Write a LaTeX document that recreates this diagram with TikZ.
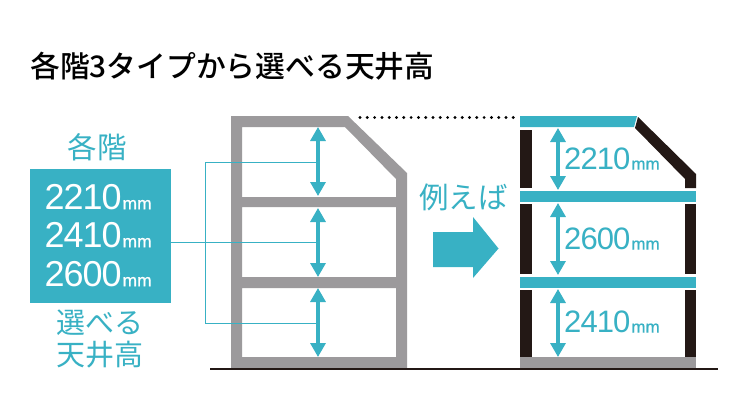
\documentclass[tikz,border=0pt]{standalone}
\usepackage{fontspec}
\setmainfont{Liberation Sans}
\newfontfamily\cjk{Noto Sans CJK JP}
\newfontfamily\cjkmed{Noto Sans CJK JP Medium}
\newfontfamily\numf{Liberation Sans}[LetterSpace=-3]
\newfontfamily\unitf{Liberation Sans}[FakeBold=0.6]
\definecolor{teal1}{HTML}{38B1C4}
\definecolor{wallgrey}{HTML}{9C9A9C}
\definecolor{wallblack}{HTML}{231815}
\usetikzlibrary{arrows.meta}
\tikzset{
  tealfill/.style={fill=teal1,draw=none},
  greyfill/.style={fill=wallgrey,draw=none},
  blackfill/.style={fill=wallblack,draw=none},
  leader/.style={draw=teal1,line width=0.9pt},
  dim/.style={draw=teal1,line width=3.2pt,{Triangle[length=14pt,width=15pt]}-{Triangle[length=14pt,width=15pt]}},
  lbl/.style={text=teal1,inner sep=0pt,anchor=center},
}
\newcommand{\dimtext}[3]{{\fontsize{#1}{#1}\selectfont\numf #2}\kern1pt{\fontsize{#3}{#3}\selectfont\unitf mm}}
\begin{document}
\begin{tikzpicture}[x=1pt,y=-1pt]
\useasboundingbox (0,0) rectangle (750,420);
\fill[white] (0,0) rectangle (750,420);
% title
\node[anchor=west,inner sep=0pt,text=black] (title) at (30,66) {\fontsize{29.8}{29.8}\selectfont\cjkmed 各階3タイプから選べる天井高};
% left box
\node[fill=teal1,minimum width=141pt,minimum height=134pt,inner sep=0pt,anchor=north west] (box) at (30,168.5) {};
\node[lbl,font=\fontsize{29.5}{29.5}\selectfont\cjk] (kakkai) at (97,147) {各階};
\node[lbl,font=\fontsize{29}{31}\selectfont\cjk,align=center] (erabu) at (99.5,339) {選べる\\[1pt]天井高};
\node[inner sep=0pt,anchor=west,text=white] (v1) at (44.5,197) {\dimtext{36}{2210}{17.5}};
\node[inner sep=0pt,anchor=west,text=white] (v2) at (44.5,235) {\dimtext{36}{2410}{17.5}};
\node[inner sep=0pt,anchor=west,text=white] (v3) at (44.5,274) {\dimtext{36}{2600}{17.5}};
% left building
\fill[greyfill,even odd rule] (231,116) -- (348,116) -- (407,173) -- (407,368) -- (231,368) -- cycle
  (242,127) -- (345,127) -- (396,179) -- (396,197) -- (242,197) -- cycle
  (242,207) -- (396,207) -- (396,277) -- (242,277) -- cycle
  (242,288) -- (396,288) -- (396,357) -- (242,357) -- cycle;
% ground
\coordinate (g1) at (210,369); \coordinate (g2) at (718,369);
\draw[wallblack,line width=1.1pt] (g1) -- (g2);
% arrows left
\coordinate (a1t) at (318,127); \coordinate (a1b) at (318,196);
\coordinate (a2t) at (318,208); \coordinate (a2b) at (318,277);
\coordinate (a3t) at (318,288); \coordinate (a3b) at (318,357);
\coordinate (j) at (205,242);
\coordinate (l1) at (318,162); \coordinate (l2) at (318,242); \coordinate (l3) at (318,323);
\draw[leader] (box.east |- j) -- (l2);
\draw[leader] (l1) -- (205,162) -- (205,323) -- (l3);
\draw[dim] (a1t) -- (a1b);
\draw[dim] (a2t) -- (a2b);
\draw[dim] (a3t) -- (a3b);
% dots
\coordinate (d1) at (360,117.5); \coordinate (d2) at (514,117.5);
\draw[black,line width=3.2pt,line cap=round,dash pattern=on 0pt off 7.3pt] (d1) -- (d2);
% example label + big arrow
\node[lbl,font=\fontsize{29.5}{29.5}\selectfont\cjk] (rei) at (463.5,197) {例えば};
\fill[tealfill] (433,232) -- (473,232) -- (473,217) -- (498.5,248.5) -- (473,278) -- (473,267) -- (433,267) -- cycle;
% right building
\fill[tealfill] (520,116) -- (637,116) -- (634,127) -- (520,127) -- cycle;
\fill[tealfill] (520,191) rectangle (696,202);
\fill[tealfill] (520,277) rectangle (696,288);
\fill[greyfill] (520,357) rectangle (696,368);
\fill[blackfill] (520,129.5) rectangle (532,188);
\fill[blackfill] (520,204) rectangle (532,274);
\fill[blackfill] (520,290) rectangle (532,357);
\fill[blackfill] (685,204) rectangle (696,274);
\fill[blackfill] (685,290) rectangle (696,357);
\fill[blackfill] (638,117) -- (696,174) -- (696,188) -- (685,188) -- (685,179) -- (635,128) -- cycle;
\coordinate (b1t) at (558,128); \coordinate (b1b) at (558,190);
\coordinate (b2t) at (558,203); \coordinate (b2b) at (558,275);
\coordinate (b3t) at (558,289); \coordinate (b3b) at (558,357);
\draw[dim] (b1t) -- (b1b);
\draw[dim] (b2t) -- (b2b);
\draw[dim] (b3t) -- (b3b);
\node[inner sep=0pt,anchor=west,text=teal1] (r1) at (564,159) {\dimtext{31}{2210}{17}};
\node[inner sep=0pt,anchor=west,text=teal1] (r2) at (564,239) {\dimtext{31}{2600}{17}};
\node[inner sep=0pt,anchor=west,text=teal1] (r3) at (564,322) {\dimtext{31}{2410}{17}};
\end{tikzpicture}
\end{document}
